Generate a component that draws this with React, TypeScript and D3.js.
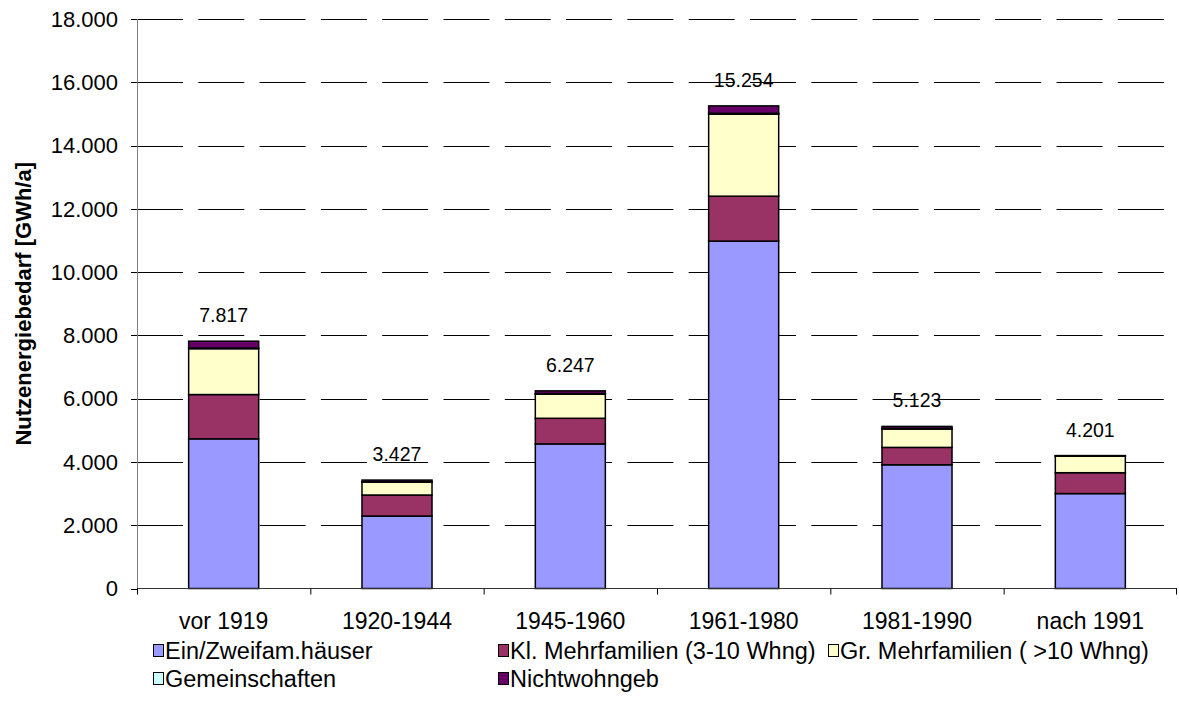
import React from "react";
import * as d3 from "d3";

const categories = ["vor 1919", "1920-1944", "1945-1960", "1961-1980", "1981-1990", "nach 1991"];
const seriesNames = [
  "Ein/Zweifam.häuser",
  "Kl. Mehrfamilien (3-10 Whng)",
  "Gr. Mehrfamilien ( >10 Whng)",
  "Gemeinschaften",
  "Nichtwohngeb",
];
const seriesColors = ["#9999FF", "#993366", "#FFFFCC", "#CCFFFF", "#660066"];
const einZweifam = [4730, 2290, 4570, 10980, 3910, 3000];
const klMehrfam = [1400, 665, 810, 1420, 550, 660];
const grMehrfam = [1450, 410, 760, 2590, 580, 525];
const gemeinschaften = [20, 10, 20, 30, 20, 5];
const nichtwohn = [217, 52, 87, 234, 63, 11];
const totals = [7817, 3427, 6247, 15254, 5123, 4201];
const yTicks = [0, 2000, 4000, 6000, 8000, 10000, 12000, 14000, 16000, 18000];

const FONT = "'Liberation Sans', Arial, sans-serif";

export default function App() {
  const W = 1179;
  const H = 719;
  const left = 137;
  const right = 1177;
  const top = 19;
  const bottom = 588.5;

  const x = d3.scaleBand<string>().domain(categories).range([left, right]).paddingInner(0.596).paddingOuter(0.298);
  const step = x.step();
  const y = d3.scaleLinear().domain([0, 18000]).range([bottom, top]);

  const seriesData = [einZweifam, klMehrfam, grMehrfam, gemeinschaften, nichtwohn];
  const rows = categories.map((c, i) => {
    const r: any = { cat: c };
    seriesNames.forEach((s, k) => (r[s] = seriesData[k][i]));
    return r;
  });
  const stacked = d3.stack<any>().keys(seriesNames)(rows);
  const fmt = (v: number) => d3.format(",")(v).replace(/,/g, ".");

  const legendItems = [
    { k: 0, x: 153, row: 0 },
    { k: 1, x: 498, row: 0 },
    { k: 2, x: 828, row: 0 },
    { k: 3, x: 153, row: 1 },
    { k: 4, x: 498, row: 1 },
  ];
  const legendRowY = [651, 679];

  return (
    <svg width={W} height={H} style={{ display: "block", position: "absolute", left: 0, top: 0, background: "#fff" }} fontFamily={FONT}>
      <rect x={0} y={0} width={W} height={H} fill="#fff" />
      {/* gridlines */}
      {yTicks.filter((t) => t > 0).map((t) => (
        <line key={"g" + t} x1={left} x2={right} y1={Math.round(y(t)) + 0.5} y2={Math.round(y(t)) + 0.5} stroke="#000" strokeWidth={1} strokeDasharray="46,15.3" />
      ))}
      {/* y axis */}
      <line x1={left + 0.5} x2={left + 0.5} y1={top} y2={bottom} stroke="#808080" strokeWidth={1} />
      {yTicks.map((t) => (
        <g key={"t" + t}>
          <line x1={left - 6} x2={left} y1={Math.round(y(t)) + 0.5} y2={Math.round(y(t)) + 0.5} stroke="#000" strokeWidth={1} />
          <text x={118} y={y(t)} dy="0.35em" textAnchor="end" fontSize={22} fill="#000">{fmt(t)}</text>
        </g>
      ))}
      {/* bars */}
      {stacked.map((s, k) => (
        <g key={"s" + k}>
          {s.map((d, i) => (
            <rect key={i} x={x(categories[i])!} y={y(d[1])} width={x.bandwidth()} height={Math.max(0, y(d[0]) - y(d[1]))} fill={seriesColors[k]} stroke="#000" strokeWidth={1.5} />
          ))}
        </g>
      ))}
      {/* x axis */}
      <line x1={left} x2={right} y1={bottom} y2={bottom} stroke="#333" strokeWidth={1} />
      {categories.map((c, i) => (
        <line key={"xt" + i} x1={left + i * step + 0.5} x2={left + i * step + 0.5} y1={bottom} y2={bottom + 6} stroke="#000" strokeWidth={1} />
      ))}
      <line x1={right - 0.5} x2={right - 0.5} y1={bottom} y2={bottom + 6} stroke="#000" strokeWidth={1} />
      {categories.map((c) => (
        <text key={"c" + c} x={x(c)! + x.bandwidth() / 2} y={629} textAnchor="middle" fontSize={23} fill="#000">{c}</text>
      ))}
      {/* value labels */}
      {categories.map((c, i) => (
        <text key={"v" + c} x={x(c)! + x.bandwidth() / 2} y={y(totals[i]) - 19} textAnchor="middle" fontSize={19.5} fill="#000">{fmt(totals[i])}</text>
      ))}
      {/* y title */}
      <text transform={`translate(30.5,${(top + bottom) / 2}) rotate(-90)`} textAnchor="middle" fontSize={22} fontWeight="bold" fill="#000">Nutzenergiebedarf [GWh/a]</text>
      {/* legend */}
      {legendItems.map((it) => (
        <g key={"l" + it.k}>
          <rect x={it.x + 0.5} y={legendRowY[it.row] - 6.5} width={10} height={12} fill={seriesColors[it.k]} stroke="#000" strokeWidth={1} />
          <text x={it.x + 12} y={legendRowY[it.row]} dy="0.35em" fontSize={23.5} fill="#000">{seriesNames[it.k]}</text>
        </g>
      ))}
    </svg>
  );
}
